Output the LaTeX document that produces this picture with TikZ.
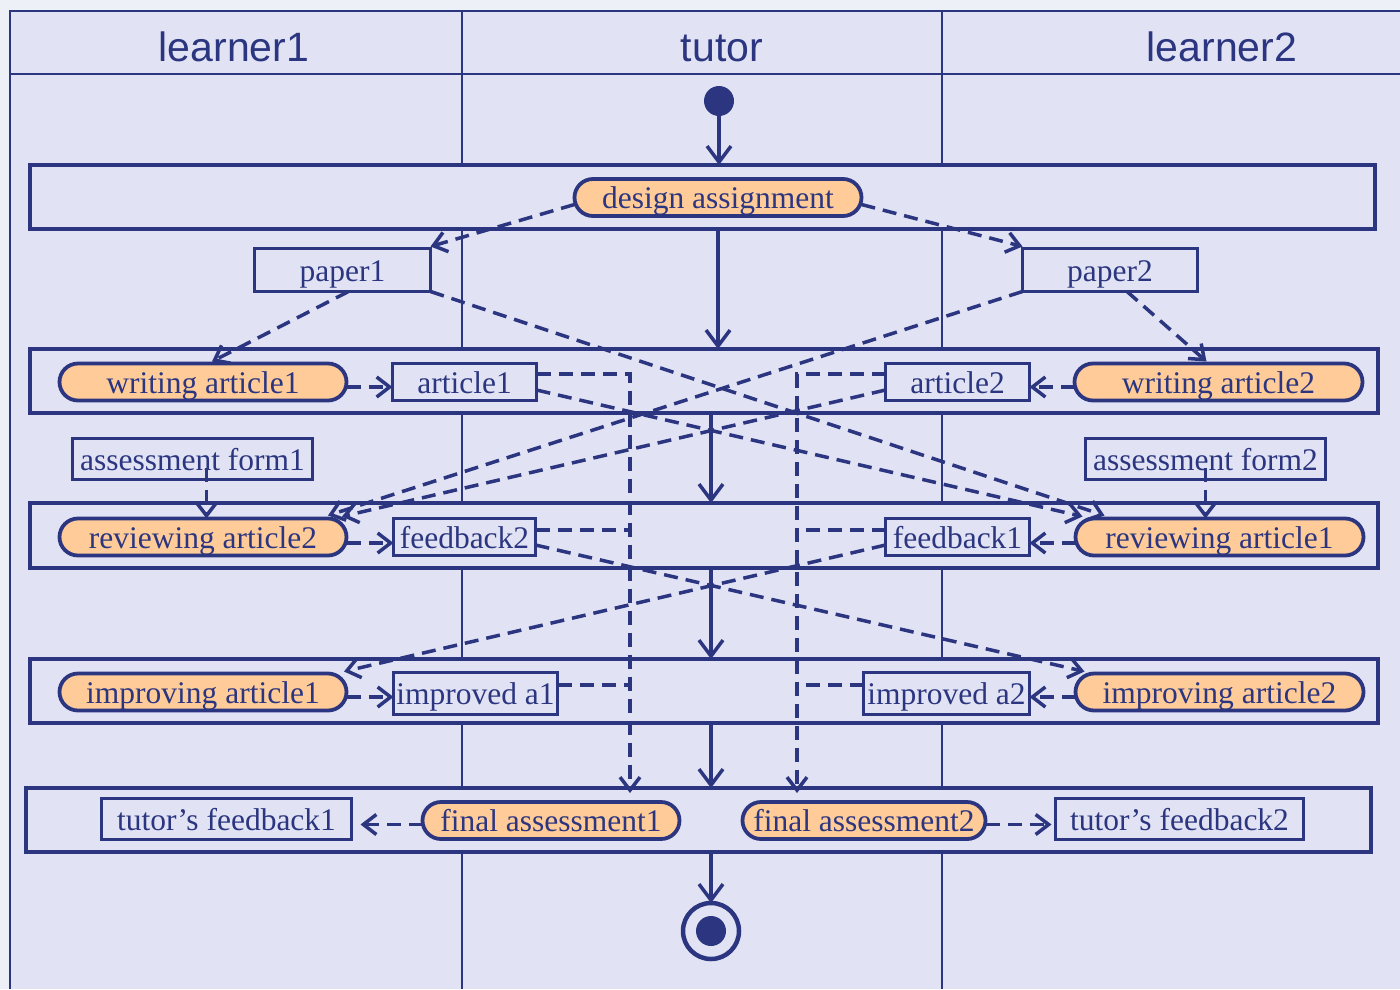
\documentclass[tikz,border=0pt]{standalone}
\usepackage{fontspec}
\setmainfont{Liberation Serif}
\newfontfamily\titlefont{Liberation Sans}
\usetikzlibrary{arrows.meta}
\definecolor{navy}{RGB}{44,54,128}
\definecolor{lanebg}{RGB}{225,227,244}
\definecolor{outbg}{RGB}{238,240,248}
\definecolor{actfill}{RGB}{255,204,153}
\begin{document}
\begin{tikzpicture}[x=1pt,y=-1pt,
  lanetitle/.style={inner sep=0pt, text=navy, font=\titlefont\fontsize{41}{41}\selectfont, text height=29pt, text depth=0pt},
  band/.style={draw=navy, line width=3.5pt, fill=lanebg, inner sep=0pt, outer sep=0pt},
  actnode/.style={draw=navy, line width=3.8pt, fill=actfill, rounded corners=18.5pt, minimum height=37pt, inner sep=0pt, outer sep=0pt, text=navy, font=\fontsize{31.5}{31.5}\selectfont, text height=22pt, text depth=0pt},
  objnode/.style={draw=navy, line width=3.5pt, fill=lanebg, inner sep=0pt, outer sep=0pt, text=navy, font=\fontsize{31.5}{31.5}\selectfont, text height=22pt, text depth=0pt},
  flow/.style={draw=navy, line width=3.5pt, -{Straight Barb[length=16pt,width=24pt]}},
  objflow/.style={draw=navy, line width=3.5pt, dash pattern=on 14pt off 8pt, -{Straight Barb[length=13pt,width=20pt]}},
  objline/.style={draw=navy, line width=3.5pt, dash pattern=on 14pt off 8pt},
  frameline/.style={draw=navy, line width=2.5pt},
  laneline/.style={draw=navy, line width=1.6pt}
]
\useasboundingbox (0,0) rectangle (1400,989);
\fill[outbg] (0,0) rectangle (1400,989);
\fill[lanebg] (10,11) rectangle (1400,989);
% swimlane frame
\draw[frameline] (10,989) -- (10,11) -- (1400,11);
\draw[frameline] (10,74) -- (1400,74);
\draw[laneline] (462,11) -- (462,989);
\draw[laneline] (942,11) -- (942,989);
\node[lanetitle] (t1) at (234,47) {learner1};
\node[lanetitle] (t2) at (722,47) {tutor};
\node[lanetitle] (t3) at (1222,47) {learner2};
% bands
\node[band, minimum width=1345pt, minimum height=64pt] (band1) at (702.5,197) {};
\node[band, minimum width=1348pt, minimum height=64pt] (band2) at (704,381) {};
\node[band, minimum width=1348pt, minimum height=65pt] (band3) at (704,535.5) {};
\node[band, minimum width=1348pt, minimum height=64pt] (band4) at (704,691) {};
\node[band, minimum width=1345pt, minimum height=64pt] (band5) at (698.5,820) {};
% activities
\node[actnode, minimum width=287pt] (da) at (718,197.5) {design assignment};
\node[actnode, minimum width=287pt] (wa1) at (203,382) {writing article1};
\node[actnode, minimum width=288pt] (wa2) at (1218.5,382) {writing article2};
\node[actnode, minimum width=287pt] (ra2) at (203,537) {reviewing article2};
\node[actnode, minimum width=288pt] (ra1) at (1219.5,537) {reviewing article1};
\node[actnode, minimum width=287pt] (ia1) at (203,692) {improving article1};
\node[actnode, minimum width=288pt] (ia2) at (1219.5,692) {improving article2};
\node[actnode, minimum width=257pt] (fa1) at (551,820.5) {final assessment1};
\node[actnode, minimum width=243pt] (fa2) at (864,820.5) {final assessment2};
% objects
\node[objnode, minimum width=176pt, minimum height=43pt] (p1) at (342.5,270) {paper1};
\node[objnode, minimum width=175pt, minimum height=43pt] (p2) at (1110,270) {paper2};
\node[objnode, minimum width=144pt, minimum height=37pt] (a1) at (464.5,382) {article1};
\node[objnode, minimum width=144pt, minimum height=37pt] (a2) at (957.5,382) {article2};
\node[objnode, minimum width=240pt, minimum height=41pt] (af1) at (192.5,459) {assessment form1};
\node[objnode, minimum width=240pt, minimum height=41pt] (af2) at (1205.5,459) {assessment form2};
\node[objnode, minimum width=142pt, minimum height=37pt] (fb2) at (464.5,537) {feedback2};
\node[objnode, minimum width=144pt, minimum height=37pt] (fb1) at (957.5,537) {feedback1};
\node[objnode, minimum width=164pt, minimum height=42pt] (ima1) at (475.5,693.5) {improved a1};
\node[objnode, minimum width=166pt, minimum height=42pt] (ima2) at (946.5,693.5) {improved a2};
\node[objnode, minimum width=250pt, minimum height=41pt] (tf1) at (226.5,819) {tutor’s feedback1};
\node[objnode, minimum width=248pt, minimum height=41pt] (tf2) at (1179.5,819) {tutor’s feedback2};
% start / end
\node[circle, fill=navy, inner sep=0pt, minimum size=30pt] (start) at (719,101) {};
\node[circle, draw=navy, line width=4.5pt, fill=lanebg, inner sep=0pt, minimum size=56pt, outer sep=0pt] (end) at (711,931) {};
\node[circle, fill=navy, inner sep=0pt, minimum size=30pt] (endin) at (end) {};
% control flow
\coordinate (tx) at (711,0);
\draw[flow] (start.south) -- (start |- band1.north);
\draw[flow] (da |- band1.south) -- (da |- band2.north);
\draw[flow] (tx |- band2.south) -- (tx |- band3.north);
\draw[flow] (tx |- band3.south) -- (tx |- band4.north);
\draw[flow] (tx |- band4.south) -- (tx |- band5.north);
\draw[flow] (tx |- band5.south) -- (end.north);
% object flows
\draw[objflow] ([yshift=-7pt]da.west) -- ([yshift=2pt]p1.north east);
\draw[objflow] ([yshift=-7pt]da.east) -- ([yshift=2pt]p2.north west);
\draw[objflow] ([xshift=6pt]p1.south) -- ([xshift=9pt,yshift=2pt]wa1.north);
\draw[objflow] ([xshift=17pt]p2.south) -- ([xshift=-12pt,yshift=2pt]wa2.north);
\draw[objflow] (p1.south east) -- ([xshift=-115pt,yshift=3pt]ra1.north);
\draw[objflow] ([yshift=-8pt]a1.east) -- ([xshift=-137pt,yshift=2pt]ra1.north);
\draw[objflow] (p2.south west) -- ([xshift=125pt,yshift=3pt]ra2.north);
\draw[objflow] ([yshift=-8pt]a2.west) -- ([xshift=139pt,yshift=2pt]ra2.north);
\draw[objflow] ([yshift=-8pt]fb2.east) -- ([xshift=-135pt,yshift=2pt]ia2.north);
\draw[objflow] ([yshift=-8pt]fb1.west) -- ([xshift=141pt,yshift=2pt]ia1.north);
\draw[objflow] ([yshift=-5pt]wa1.east) -- ([yshift=-5pt]a1.west);
\draw[objflow] ([yshift=-5pt]wa2.west) -- ([yshift=-5pt]a2.east);
\draw[objflow] ([yshift=-6pt]ra2.east) -- ([yshift=-6pt]fb2.west);
\draw[objflow] ([yshift=-6pt]ra1.west) -- ([yshift=-6pt]fb1.east);
\draw[objflow] ([yshift=-5pt]ia1.east) -- ([yshift=-3.5pt]ima1.west);
\draw[objflow] ([yshift=-5pt]ia2.west) -- ([yshift=-3.5pt]ima2.east);
\draw[objflow] ([xshift=14pt,yshift=12pt]af1.south) -- ([xshift=14pt]af1.south |- ra2.north);
\draw[objflow] ([yshift=12pt]af2.south) -- (af2.south |- ra1.north);
\draw[objflow] ([yshift=-4pt]fa1.west) -- ([xshift=9pt,yshift=-5.5pt]tf1.east);
\draw[objflow] ([yshift=-4pt]fa2.east) -- ([xshift=-4pt,yshift=-5.5pt]tf2.west);
% collectors to final assessments
\coordinate (colL) at (630,0);
\coordinate (colR) at (797,0);
\coordinate (a1o) at ([yshift=8pt]a1.east);
\coordinate (a2o) at ([yshift=8pt]a2.west);
\coordinate (fb2o) at ([yshift=7pt]fb2.east);
\coordinate (fb1o) at ([yshift=7pt]fb1.west);
\coordinate (ima1o) at ([yshift=8.5pt]ima1.east);
\coordinate (ima2o) at ([yshift=8.5pt]ima2.west);
\draw[objflow, shorten >=9pt] (a1o) -| (colL |- fa1.north);
\draw[objflow, shorten >=9pt] (a2o) -| (colR |- fa2.north);
\draw[objline] (fb2o) -- (fb2o -| colL);
\draw[objline] (fb1o) -- (fb1o -| colR);
\draw[objline] (ima1o) -- (ima1o -| colL);
\draw[objline] (ima2o) -- (ima2o -| colR);
\end{tikzpicture}
\end{document}
